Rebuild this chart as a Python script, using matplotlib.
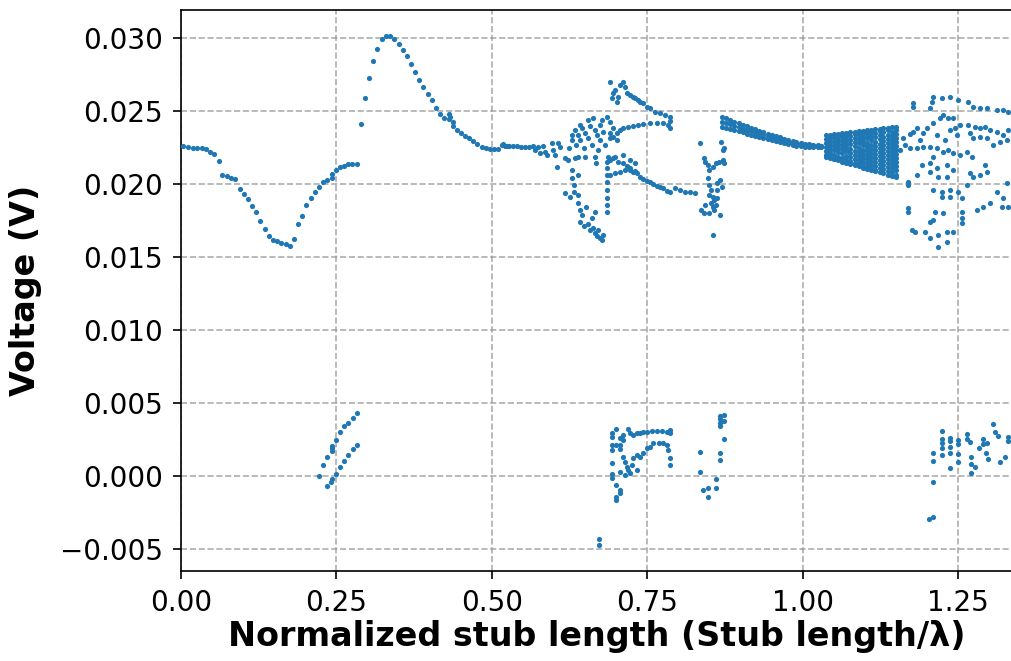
import matplotlib
matplotlib.use("Agg")
import matplotlib.pyplot as plt
from matplotlib.ticker import FuncFormatter

# ---- data ----
dip_x = [0.0037, 0.0113, 0.0188, 0.0253, 0.0333, 0.0402, 0.0467, 0.0536, 0.0607, 0.0664,
         0.0735, 0.0804, 0.0874, 0.0944, 0.1009, 0.1073, 0.1142, 0.1211, 0.1271, 0.1347,
         0.1416, 0.1485, 0.1549, 0.1614, 0.1684, 0.1749, 0.1813, 0.1882, 0.1951, 0.2016,
         0.2087, 0.2151, 0.2220, 0.2284, 0.2354, 0.2424, 0.2424, 0.2489, 0.2558, 0.2622,
         0.2691, 0.2756, 0.2827]
dip_y = [0.02260, 0.02253, 0.02249, 0.02247, 0.02245, 0.02242, 0.02219, 0.02208, 0.02158, 0.02062,
         0.02053, 0.02041, 0.02032, 0.01964, 0.01929, 0.01895, 0.01847, 0.01808, 0.01745, 0.01690,
         0.01644, 0.01614, 0.01608, 0.01598, 0.01587, 0.01577, 0.01623, 0.01724, 0.01783, 0.01856,
         0.01904, 0.01943, 0.01982, 0.02014, 0.02029, 0.02066, 0.02040, 0.02094, 0.02114, 0.02125,
         0.02135, 0.02137, 0.02139]

peak_x = [0.2891, 0.2960, 0.3024, 0.3094, 0.3158, 0.3229, 0.3293, 0.3362, 0.3431, 0.3502,
          0.3567, 0.3636, 0.3700, 0.3764, 0.3834, 0.3898, 0.3969, 0.4038, 0.4102, 0.4172,
          0.4236, 0.4307, 0.4307, 0.4320, 0.4371, 0.4371, 0.4435, 0.4504, 0.4569, 0.4638,
          0.4702, 0.4767, 0.4838, 0.4902, 0.4971, 0.5035, 0.5105, 0.5175, 0.5240]
peak_y = [0.02411, 0.02591, 0.02724, 0.02845, 0.02925, 0.02991, 0.03014, 0.03014, 0.02991, 0.02959,
          0.02918, 0.02877, 0.02822, 0.02767, 0.02714, 0.02666, 0.02616, 0.02575, 0.02518, 0.02482,
          0.02454, 0.02477, 0.02445, 0.02462, 0.02425, 0.02400, 0.02370, 0.02351, 0.02331, 0.02313,
          0.02292, 0.02274, 0.02255, 0.02245, 0.02238, 0.02238, 0.02242, 0.02272, 0.02260]

mid_x = [0.5160, 0.5213, 0.5283, 0.5337, 0.5401, 0.5466, 0.5535, 0.5604, 0.5669, 0.5696,
         0.5749, 0.5776, 0.5829, 0.5857, 0.5884, 0.5965, 0.5990, 0.6018, 0.6055, 0.6071,
         0.6098, 0.6179, 0.6232, 0.6248, 0.6287, 0.6340, 0.6393, 0.6500, 0.6661, 0.6672,
         # dense cluster
         0.6340, 0.6390, 0.6420, 0.6452, 0.6500, 0.6549, 0.6580, 0.6613, 0.6660, 0.6694,
         0.6740, 0.6740, 0.6790, 0.6820, 0.6355, 0.6485, 0.6549, 0.6290, 0.6629, 0.6710,
         0.6774, 0.6420,
         # falling column / cluster
         0.6291, 0.6291, 0.6323, 0.6323, 0.6259, 0.6179, 0.6388, 0.6388,
         0.6388, 0.6420, 0.6452, 0.6517, 0.6420, 0.6485, 0.6550, 0.6580, 0.6630, 0.6660,
         0.6690, 0.6740, 0.6774, 0.6662, 0.6613, 0.6710, 0.6790,
         # column near 0.686
         0.6855, 0.6855, 0.6855, 0.6855, 0.6855, 0.6855, 0.6855, 0.6855, 0.6871,
         0.6855, 0.6903, 0.6952, 0.6903]
mid_y = [0.02267, 0.02262, 0.02262, 0.02260, 0.02260, 0.02255, 0.02255, 0.02255, 0.02260, 0.02233,
         0.02255, 0.02210, 0.02262, 0.02221, 0.02199, 0.02279, 0.02233, 0.02199, 0.02114, 0.02279,
         0.02255, 0.02176, 0.02164, 0.02249, 0.02301, 0.02176, 0.02187, 0.02187, 0.02187, 0.02142,
         0.02370, 0.02336, 0.02301, 0.02384, 0.02349, 0.02315, 0.02397, 0.02267, 0.02370, 0.02336,
         0.02404, 0.02301, 0.02356, 0.02267, 0.02267, 0.02247, 0.02438, 0.02336, 0.02452, 0.02233,
         0.02438, 0.02404,
         0.02096, 0.02041, 0.01993, 0.01945, 0.01911, 0.01938, 0.02062, 0.01925,
         0.01870, 0.01822, 0.01788, 0.01842, 0.01740, 0.01712, 0.01726, 0.01685, 0.01699, 0.01664,
         0.01644, 0.01630, 0.01616, 0.01808, 0.01767, 0.01685, 0.01651,
         0.02151, 0.02110, 0.02062, 0.02014, 0.01959, 0.01904, 0.01856, 0.01808, 0.02185,
         0.02459, 0.02425, 0.02384, 0.02349]

upper_x = [0.6903, 0.6935, 0.6984, 0.7017, 0.6952, 0.7032, 0.7063, 0.7112, 0.7145, 0.7177,
           0.7225, 0.7274, 0.7306, 0.7354, 0.7386, 0.7435, 0.7499, 0.7547, 0.7628, 0.7708,
           0.7789, 0.7869, 0.7869]
upper_y = [0.02699, 0.02589, 0.02644, 0.02562, 0.02623, 0.02596, 0.02678, 0.02699, 0.02664, 0.02623,
           0.02610, 0.02596, 0.02589, 0.02575, 0.02562, 0.02555, 0.02527, 0.02521, 0.02493, 0.02486,
           0.02473, 0.02459, 0.02432]

rise_x = [0.6951, 0.7015, 0.7063, 0.7112, 0.7192, 0.7273, 0.7353, 0.7434, 0.7547, 0.7659,
          0.7756, 0.7836, 0.7869, 0.6903, 0.7015]
rise_y = [0.02322, 0.02349, 0.02370, 0.02384, 0.02390, 0.02397, 0.02404, 0.02411, 0.02418, 0.02418,
          0.02418, 0.02404, 0.02384, 0.02315, 0.02301]

fall_x = [0.6903, 0.6951, 0.7032, 0.7112, 0.7176, 0.7225, 0.7273, 0.7337, 0.7386, 0.7434,
          0.7498, 0.7547, 0.7595, 0.7659, 0.7708, 0.7756, 0.7820, 0.7869,
          0.6903, 0.6984, 0.7063, 0.7145, 0.7225, 0.7306,
          0.6984, 0.7112, 0.7225, 0.7306,
          0.7949, 0.8029, 0.8110, 0.8190, 0.8271]
fall_y = [0.02164, 0.02178, 0.02151, 0.02144, 0.02123, 0.02110, 0.02082, 0.02075, 0.02048, 0.02034,
          0.02021, 0.02014, 0.02000, 0.01986, 0.01979, 0.01973, 0.01952, 0.01945,
          0.02062, 0.02075, 0.02082, 0.02096, 0.02096, 0.02089,
          0.02185, 0.02199, 0.02164, 0.02144,
          0.01973, 0.01959, 0.01945, 0.01945, 0.01938]

col_x = [0.8342, 0.8406, 0.8438, 0.8471, 0.8487, 0.8551, 0.8599, 0.8648, 0.8712, 0.8728,
         0.8680, 0.8712, 0.8728, 0.8471, 0.8487, 0.8519, 0.8487, 0.8551, 0.8567, 0.8519,
         0.8551, 0.8567, 0.8487, 0.8406, 0.8358, 0.8615, 0.8631, 0.8664, 0.8696, 0.8615,
         0.8664, 0.8551, 0.8438, 0.8599]
col_y = [0.02281, 0.02178, 0.02151, 0.02130, 0.02096, 0.02116, 0.02144, 0.02151, 0.02164, 0.02144,
         0.02288, 0.02233, 0.02247, 0.02041, 0.01993, 0.01959, 0.01925, 0.01911, 0.01890, 0.01870,
         0.01842, 0.01822, 0.01801, 0.01801, 0.01822, 0.01959, 0.02007, 0.02027, 0.01979, 0.01904,
         0.01788, 0.01651, 0.01856, 0.01856]

band_x = [0.870, 0.877, 0.884, 0.890, 0.897, 0.904, 0.910, 0.917, 0.924, 0.930,
          0.937, 0.944, 0.950, 0.957, 0.964, 0.970, 0.977, 0.984, 0.990, 0.997,
          1.004, 1.010, 1.017, 1.024, 1.030]
band_top = [0.02459, 0.02452, 0.02438, 0.02425, 0.02418, 0.02404, 0.02397, 0.02384, 0.02377, 0.02363,
            0.02356, 0.02342, 0.02336, 0.02329, 0.02322, 0.02308, 0.02301, 0.02295, 0.02288, 0.02281,
            0.02274, 0.02274, 0.02267, 0.02267, 0.02260]
band_mid = [0.02425, 0.02418, 0.02408, 0.02398, 0.02390, 0.02380, 0.02370, 0.02360, 0.02353, 0.02342,
            0.02336, 0.02325, 0.02318, 0.02312, 0.02305, 0.02295, 0.02288, 0.02281, 0.02274, 0.02270,
            0.02264, 0.02264, 0.02260, 0.02260, 0.02257]
band_bot = [0.02390, 0.02384, 0.02377, 0.02370, 0.02363, 0.02356, 0.02342, 0.02336, 0.02329, 0.02322,
            0.02315, 0.02308, 0.02301, 0.02295, 0.02288, 0.02281, 0.02274, 0.02267, 0.02260, 0.02260,
            0.02253, 0.02253, 0.02253, 0.02253, 0.02253]

fan_x = [1.037, 1.044, 1.050, 1.057, 1.064, 1.070, 1.077, 1.084, 1.090,
         1.097, 1.104, 1.110, 1.117, 1.124, 1.130, 1.137, 1.144, 1.150]
fan_cols = [
    [0.02336, 0.02308, 0.02280, 0.02252, 0.02224, 0.02196, 0.02185],
    [0.02339, 0.02325, 0.02297, 0.02269, 0.02241, 0.02213, 0.02185, 0.02177],
    [0.02342, 0.02314, 0.02286, 0.02258, 0.02230, 0.02202, 0.02174, 0.02169],
    [0.02345, 0.02328, 0.02300, 0.02272, 0.02244, 0.02216, 0.02188, 0.02161],
    [0.02349, 0.02321, 0.02293, 0.02265, 0.02237, 0.02209, 0.02181, 0.02153],
    [0.02352, 0.02335, 0.02307, 0.02279, 0.02251, 0.02223, 0.02195, 0.02167, 0.02145],
    [0.02355, 0.02327, 0.02299, 0.02271, 0.02243, 0.02215, 0.02187, 0.02159, 0.02137],
    [0.02358, 0.02341, 0.02313, 0.02285, 0.02257, 0.02229, 0.02201, 0.02173, 0.02145, 0.02128],
    [0.02362, 0.02334, 0.02306, 0.02278, 0.02250, 0.02222, 0.02194, 0.02166, 0.02138, 0.02120],
    [0.02365, 0.02348, 0.02320, 0.02292, 0.02264, 0.02236, 0.02208, 0.02180, 0.02152, 0.02124, 0.02112],
    [0.02368, 0.02340, 0.02312, 0.02284, 0.02256, 0.02228, 0.02200, 0.02172, 0.02144, 0.02116, 0.02104],
    [0.02371, 0.02354, 0.02326, 0.02298, 0.02270, 0.02242, 0.02214, 0.02186, 0.02158, 0.02130, 0.02102, 0.02096],
    [0.02375, 0.02347, 0.02319, 0.02291, 0.02263, 0.02235, 0.02207, 0.02179, 0.02151, 0.02123, 0.02095, 0.02088],
    [0.02378, 0.02361, 0.02333, 0.02305, 0.02277, 0.02249, 0.02221, 0.02193, 0.02165, 0.02137, 0.02109, 0.02080],
    [0.02381, 0.02353, 0.02325, 0.02297, 0.02269, 0.02241, 0.02213, 0.02185, 0.02157, 0.02129, 0.02101, 0.02072],
    [0.02384, 0.02367, 0.02339, 0.02311, 0.02283, 0.02255, 0.02227, 0.02199, 0.02171, 0.02143, 0.02115, 0.02087, 0.02064],
    [0.02387, 0.02359, 0.02331, 0.02303, 0.02275, 0.02247, 0.02219, 0.02191, 0.02163, 0.02135, 0.02107, 0.02079, 0.02056],
    [0.02390, 0.02373, 0.02345, 0.02317, 0.02289, 0.02261, 0.02233, 0.02205, 0.02177, 0.02149, 0.02121, 0.02093, 0.02065, 0.02048],
]

right_x = [1.1778, 1.2084, 1.2100, 1.2245, 1.2373, 1.2502, 1.2663, 1.2744, 1.2856, 1.2969,
           1.3130, 1.3226, 1.3306, 1.2052, 1.1778,
           1.1617, 1.1730, 1.1778, 1.1842, 1.1939, 1.2003, 1.2100, 1.2213, 1.2261, 1.2341,
           1.2421, 1.2454, 1.2486, 1.2534, 1.2663, 1.2695, 1.2775, 1.2856, 1.2937, 1.3017,
           1.3130, 1.3226, 1.3306, 1.2744, 1.2856, 1.2969, 1.3065, 1.3178, 1.3290,
           1.1730, 1.1842, 1.1939, 1.2052, 1.2164, 1.2261, 1.2341, 1.2421, 1.2534, 1.2647,
           1.2727, 1.2100, 1.1569, 1.1649, 1.1891, 1.2164, 1.2293, 1.2373,
           1.1923, 1.2052, 1.2164, 1.2325, 1.2421, 1.2052, 1.1842, 1.2180, 1.2325, 1.2695,
           1.2744, 1.2856, 1.2937, 1.2969, 1.2647, 1.1698, 1.1698,
           1.2100, 1.2245, 1.2373, 1.2502, 1.2566, 1.2245, 1.2373,
           1.2808, 1.2904, 1.3017, 1.3130, 1.3226, 1.3306, 1.3210, 1.3290,
           1.1698, 1.1698, 1.2132, 1.2261, 1.2100, 1.2052, 1.2566, 1.2566, 1.2566, 1.1810,
           1.1762, 1.1971, 1.2052, 1.2180, 1.2325, 1.2325, 1.2421, 1.2180]
right_y = [0.02555, 0.02562, 0.02596, 0.02589, 0.02596, 0.02575, 0.02562, 0.02527, 0.02521, 0.02521,
           0.02507, 0.02507, 0.02493, 0.02521, 0.02527,
           0.02315, 0.02342, 0.02356, 0.02384, 0.02349, 0.02384, 0.02418, 0.02452, 0.02473, 0.02452,
           0.02452, 0.02384, 0.02336, 0.02404, 0.02404, 0.02349, 0.02390, 0.02384, 0.02390, 0.02370,
           0.02356, 0.02336, 0.02370, 0.02315, 0.02322, 0.02315, 0.02267, 0.02288, 0.02301,
           0.02247, 0.02247, 0.02253, 0.02253, 0.02247, 0.02219, 0.02233, 0.02212, 0.02199, 0.02219,
           0.02185, 0.02185, 0.02233, 0.02267, 0.02301, 0.02336, 0.02301, 0.02370,
           0.02130, 0.02144, 0.02110, 0.02130, 0.02096, 0.02082, 0.02062, 0.02048, 0.02048, 0.02075,
           0.02048, 0.02062, 0.02130, 0.02082, 0.01993, 0.02014, 0.01993,
           0.01959, 0.01945, 0.01959, 0.01945, 0.01904, 0.01911, 0.01911,
           0.01822, 0.01842, 0.01870, 0.01945, 0.01904, 0.01842, 0.01842, 0.02007,
           0.01836, 0.01808, 0.01808, 0.01801, 0.01753, 0.01740, 0.01808, 0.01767, 0.01733, 0.01671,
           0.01685, 0.01671, 0.01630, 0.01651, 0.01671, 0.01603, 0.01671, 0.01568]

low1_x = [0.2220, 0.2279, 0.2354, 0.2424, 0.2424, 0.2424, 0.2489, 0.2558, 0.2622, 0.2692,
          0.2762, 0.2826,
          0.2354, 0.2413, 0.2424, 0.2494, 0.2558, 0.2622, 0.2692, 0.2762, 0.2826]
low1_y = [0.00000, 0.00075, 0.00132, 0.00173, 0.00190, 0.00208, 0.00247, 0.00299, 0.00342, 0.00365,
          0.00395, 0.00434,
          -0.00068, -0.00039, -0.00023, 0.00012, 0.00060, 0.00105, 0.00146, 0.00183, 0.00212]

low2_x = [0.6725, 0.6725,
          0.6929, 0.6929, 0.6929, 0.6929, 0.6929, 0.6929, 0.6929, 0.6993, 0.6993, 0.6993,
          0.7063, 0.7063,
          0.6998, 0.7063, 0.7117, 0.7198, 0.7225, 0.7279, 0.7333, 0.7386, 0.7440, 0.7494,
          0.7574, 0.7654, 0.7735, 0.7815, 0.7869, 0.7869, 0.6998, 0.7063, 0.7063, 0.7117,
          0.7117, 0.7144, 0.7171, 0.7198, 0.7252, 0.7279, 0.7333, 0.7386, 0.7440, 0.7494,
          0.7547, 0.7601, 0.7682, 0.7762, 0.7826, 0.7842, 0.7869, 0.7869, 0.7063, 0.7144,
          0.7225, 0.7333]
low2_y = [-0.00434, -0.00470,
          0.00292, 0.00270, 0.00212, 0.00178, 0.00090, 0.00014, -0.00016, -0.00062, -0.00142, -0.00164,
          -0.00096, -0.00116,
          0.00320, 0.00259, 0.00281, 0.00320, 0.00292, 0.00281, 0.00292, 0.00292, 0.00299, 0.00303,
          0.00308, 0.00308, 0.00308, 0.00303, 0.00315, 0.00292, 0.00212, 0.00212, 0.00183, 0.00247,
          0.00132, 0.00098, 0.00064, 0.00041, 0.00075, 0.00120, 0.00144, 0.00132, 0.00155, 0.00190,
          0.00201, 0.00224, 0.00228, 0.00228, 0.00212, 0.00178, 0.00120, 0.00075, 0.00029, 0.00007,
          0.00018, 0.00041]

low3_x = [0.8342, 0.8342, 0.8405, 0.8476, 0.8476, 0.8607, 0.8607, 0.8671, 0.8671, 0.8671,
          0.8671, 0.8671, 0.8671, 0.8741, 0.8741, 0.8741]
low3_y = [0.00162, 0.00025, -0.00096, -0.00084, -0.00142, -0.00020, -0.00084, 0.00110, 0.00155, 0.00410,
          0.00390, 0.00360, 0.00340, 0.00420, 0.00380, 0.00250]

low4_x = [1.2103, 1.2038, 1.2103, 1.2103, 1.2103, 1.2237, 1.2237, 1.2237, 1.2237, 1.2237,
          1.2371, 1.2371, 1.2371, 1.2371, 1.2371, 1.2505, 1.2505, 1.2505, 1.2505, 1.2640,
          1.2640, 1.2692, 1.2708, 1.2708, 1.2705, 1.2774, 1.2843, 1.2897, 1.2897, 1.2968,
          1.2950, 1.2980, 1.3057, 1.3100, 1.3140, 1.3176, 1.3257, 1.3310, 1.3310]
low4_y = [-0.00043, -0.00297, -0.00279, 0.00160, 0.00103, 0.00308, 0.00251, 0.00224, 0.00190, 0.00144,
          0.00262, 0.00240, 0.00201, 0.00160, 0.00053, 0.00245, 0.00222, 0.00151, 0.00098, 0.00285,
          0.00250, 0.00235, 0.00130, 0.00082, 0.00018, 0.00064, 0.00190, 0.00251, 0.00222, 0.00224,
          0.00160, 0.00116, 0.00354, 0.00303, 0.00273, 0.00098, 0.00133, 0.00270, 0.00240]

# ---- assemble ----
xs, ys = [], []
for a, b in [(dip_x, dip_y), (peak_x, peak_y), (mid_x, mid_y), (upper_x, upper_y),
             (rise_x, rise_y), (fall_x, fall_y), (col_x, col_y), (right_x, right_y),
             (low1_x, low1_y), (low2_x, low2_y), (low3_x, low3_y), (low4_x, low4_y)]:
    xs += a
    ys += b
for row in (band_top, band_mid, band_bot):
    xs += band_x
    ys += row
for xv, col in zip(fan_x, fan_cols):
    xs += [xv] * len(col)
    ys += col

fig = plt.figure(figsize=(10.11, 6.61), dpi=100)
ax = fig.add_axes([181 / 1011, 90 / 661, 832 / 1011, 561 / 661])
ax.scatter(xs, ys, s=14, color='#1f77b4', linewidths=0, zorder=3)

ax.set_xlim(0, 1.3385)
ax.set_ylim(-0.006507, 0.031918)
ax.set_xticks([0.0, 0.25, 0.5, 0.75, 1.0, 1.25])
ax.set_yticks([-0.005, 0.0, 0.005, 0.01, 0.015, 0.02, 0.025, 0.03])
ax.xaxis.set_major_formatter(FuncFormatter(lambda v, p: f"{v:.2f}".replace('-', '\u2212')))
ax.yaxis.set_major_formatter(FuncFormatter(lambda v, p: f"{v:.3f}".replace('-', '\u2212')))
ax.grid(True, linestyle='--', color='#999999', linewidth=1.2, alpha=0.8)
ax.set_axisbelow(True)
ax.tick_params(labelsize=20, length=6, width=1.2, pad=7)
for sp in ax.spines.values():
    sp.set_linewidth(1.2)
ax.set_xlabel('Normalized stub length (Stub length/λ)', fontsize=24, fontweight='bold', labelpad=2)
ax.set_ylabel('Voltage (V)', fontsize=24, fontweight='bold')
ax.yaxis.set_label_coords(-0.167, 0.5)

fig.savefig('out.png', dpi=100)
